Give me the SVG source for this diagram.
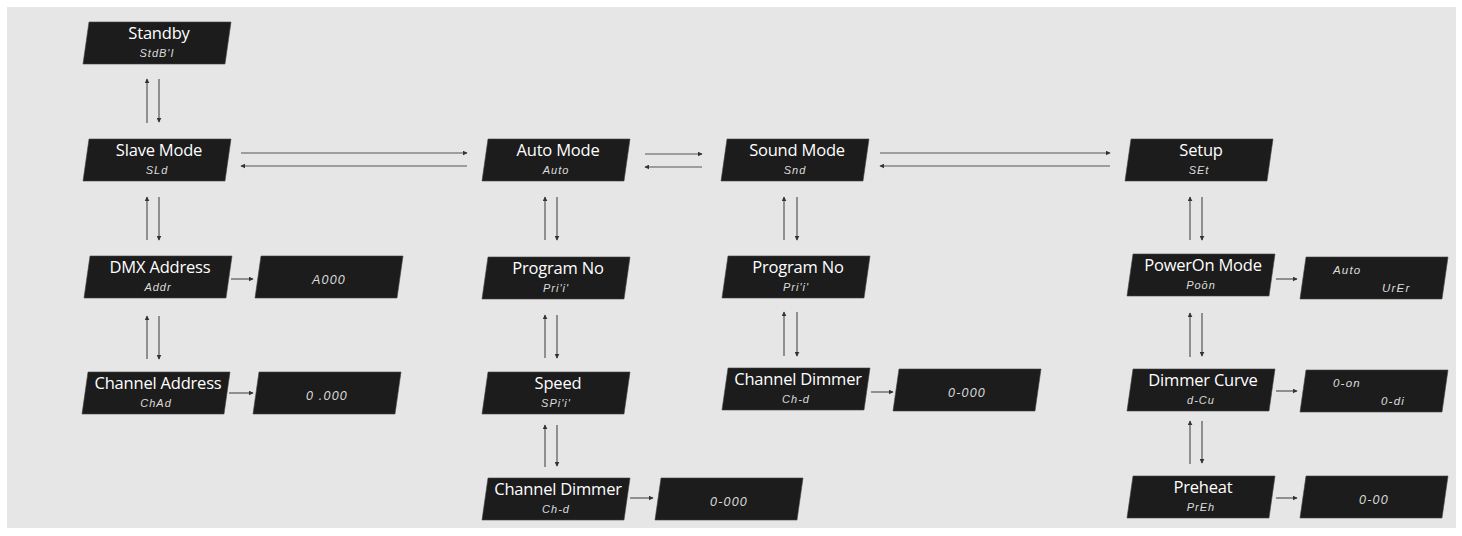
<svg xmlns="http://www.w3.org/2000/svg" width="1462" height="536" viewBox="0 0 1462 536">
<defs>
<style>
.box{fill:#1c1c1c;stroke:#444;stroke-width:0.6}
.t{font-family:"Open Sans","Liberation Sans",sans-serif;font-size:16.5px;fill:#ffffff;text-anchor:middle;letter-spacing:-0.2px}
.s{font-family:"Liberation Sans","DejaVu Sans",sans-serif;font-style:italic;font-size:11px;fill:#dcdcdc;text-anchor:middle;letter-spacing:1px}
.v{font-family:"Liberation Sans","DejaVu Sans",sans-serif;font-style:italic;font-size:12.5px;fill:#dcdcdc;text-anchor:middle;letter-spacing:1.2px}
.vl{font-family:"Liberation Sans","DejaVu Sans",sans-serif;font-style:italic;font-size:11.5px;fill:#dcdcdc;letter-spacing:1.2px}
.c{stroke:#555;stroke-width:1.2;fill:none;marker-end:url(#ah)}
</style>
<marker id="ah" viewBox="0 0 8 8" refX="7" refY="4" markerWidth="5" markerHeight="5" markerUnits="userSpaceOnUse" orient="auto">
<path d="M0,0 L8,4 L0,8 z" fill="#333"/>
</marker>
<path id="pg" d="M6,0 H148 L142,42 H0 Z"/>
</defs>
<rect x="0" y="0" width="1462" height="536" fill="#ffffff"/>
<rect x="7" y="7" width="1449" height="521" fill="#e6e6e6"/>

<g id="connectors">
<line class="c" x1="147" y1="123" x2="147" y2="79"/>
<line class="c" x1="159" y1="79" x2="159" y2="122"/>
<line class="c" x1="147" y1="240" x2="147" y2="197"/>
<line class="c" x1="159" y1="197" x2="159" y2="240"/>
<line class="c" x1="147" y1="359" x2="147" y2="316"/>
<line class="c" x1="159" y1="316" x2="159" y2="359"/>
<line class="c" x1="241" y1="153" x2="467" y2="153"/>
<line class="c" x1="467" y1="166" x2="241" y2="166"/>
<line class="c" x1="645" y1="154" x2="702" y2="154"/>
<line class="c" x1="702" y1="167" x2="645" y2="167"/>
<line class="c" x1="880" y1="153" x2="1110" y2="153"/>
<line class="c" x1="1110" y1="166" x2="880" y2="166"/>
<line class="c" x1="545" y1="240" x2="545" y2="197"/>
<line class="c" x1="557" y1="197" x2="557" y2="240"/>
<line class="c" x1="545" y1="358" x2="545" y2="315"/>
<line class="c" x1="557" y1="315" x2="557" y2="358"/>
<line class="c" x1="545" y1="467" x2="545" y2="425"/>
<line class="c" x1="557" y1="425" x2="557" y2="466"/>
<line class="c" x1="784" y1="240" x2="784" y2="197"/>
<line class="c" x1="797" y1="197" x2="797" y2="240"/>
<line class="c" x1="784" y1="356" x2="784" y2="312"/>
<line class="c" x1="797" y1="312" x2="797" y2="356"/>
<line class="c" x1="1190" y1="240" x2="1190" y2="197"/>
<line class="c" x1="1202" y1="197" x2="1202" y2="240"/>
<line class="c" x1="1190" y1="357" x2="1190" y2="313"/>
<line class="c" x1="1202" y1="313" x2="1202" y2="356"/>
<line class="c" x1="1190" y1="464" x2="1190" y2="421"/>
<line class="c" x1="1202" y1="421" x2="1202" y2="463"/>
<line class="c" x1="231" y1="279" x2="253" y2="279"/>
<line class="c" x1="229" y1="393" x2="253" y2="393"/>
<line class="c" x1="630" y1="498" x2="653" y2="498"/>
<line class="c" x1="871" y1="392" x2="893" y2="392"/>
<line class="c" x1="1276" y1="279" x2="1297" y2="279"/>
<line class="c" x1="1276" y1="391" x2="1297" y2="391"/>
<line class="c" x1="1276" y1="498" x2="1297" y2="498"/>
</g>

<g id="standby" transform="translate(83,22)"><use href="#pg" class="box"/><text class="t" x="76" y="17">Standby</text><text class="s" x="74" y="35">StdB'I</text></g>
<g id="slave-mode" transform="translate(83,139)"><use href="#pg" class="box"/><text class="t" x="76" y="17">Slave Mode</text><text class="s" x="74" y="35">SLd</text></g>
<g id="auto-mode" transform="translate(482,139)"><use href="#pg" class="box"/><text class="t" x="76" y="17">Auto Mode</text><text class="s" x="74" y="35">Auto</text></g>
<g id="sound-mode" transform="translate(721,139)"><use href="#pg" class="box"/><text class="t" x="76" y="17">Sound Mode</text><text class="s" x="74" y="35">Snd</text></g>
<g id="setup" transform="translate(1125,139)"><use href="#pg" class="box"/><text class="t" x="76" y="17">Setup</text><text class="s" x="74" y="35">SEt</text></g>

<g id="dmx-address" transform="translate(84,256)"><use href="#pg" class="box"/><text class="t" x="76" y="17">DMX Address</text><text class="s" x="74" y="35">Addr</text></g>
<g id="dmx-value" transform="translate(255,256)"><use href="#pg" class="box"/><text class="v" x="74" y="28">A000</text></g>
<g id="channel-address" transform="translate(82,372)"><use href="#pg" class="box"/><text class="t" x="76" y="17">Channel Address</text><text class="s" x="74" y="35">ChAd</text></g>
<g id="channel-address-value" transform="translate(253,372)"><use href="#pg" class="box"/><text class="v" x="74" y="28">0 .000</text></g>

<g id="auto-program" transform="translate(482,257)"><use href="#pg" class="box"/><text class="t" x="76" y="17">Program No</text><text class="s" x="74" y="35">Pri'i'</text></g>
<g id="auto-speed" transform="translate(482,372)"><use href="#pg" class="box"/><text class="t" x="76" y="17">Speed</text><text class="s" x="74" y="35">SPi'i'</text></g>
<g id="auto-dimmer" transform="translate(482,478)"><use href="#pg" class="box"/><text class="t" x="76" y="17">Channel Dimmer</text><text class="s" x="74" y="35">Ch-d</text></g>
<g id="auto-dimmer-value" transform="translate(655,478)"><use href="#pg" class="box"/><text class="v" x="74" y="28">0-000</text></g>

<g id="sound-program" transform="translate(722,256)"><use href="#pg" class="box"/><text class="t" x="76" y="17">Program No</text><text class="s" x="74" y="35">Pri'i'</text></g>
<g id="sound-dimmer" transform="translate(722,368)"><use href="#pg" class="box"/><text class="t" x="76" y="17">Channel Dimmer</text><text class="s" x="74" y="35">Ch-d</text></g>
<g id="sound-dimmer-value" transform="translate(893,369)"><use href="#pg" class="box"/><text class="v" x="74" y="28">0-000</text></g>

<g id="poweron-mode" transform="translate(1127,254)"><use href="#pg" class="box"/><text class="t" x="76" y="17">PowerOn Mode</text><text class="s" x="74" y="35">Poōn</text></g>
<g id="poweron-value" transform="translate(1300,257)"><use href="#pg" class="box"/><text class="vl" x="33" y="17">Auto</text><text class="vl" x="82" y="35">UrEr</text></g>
<g id="dimmer-curve" transform="translate(1127,369)"><use href="#pg" class="box"/><text class="t" x="76" y="17">Dimmer Curve</text><text class="s" x="74" y="35">d-Cu</text></g>
<g id="dimmer-curve-value" transform="translate(1300,370)"><use href="#pg" class="box"/><text class="vl" x="33" y="17">0-on</text><text class="vl" x="81" y="35">0-di</text></g>
<g id="preheat" transform="translate(1127,476)"><use href="#pg" class="box"/><text class="t" x="76" y="17">Preheat</text><text class="s" x="74" y="35">PrEh</text></g>
<g id="preheat-value" transform="translate(1300,476)"><use href="#pg" class="box"/><text class="v" x="74" y="28">0-00</text></g>
</svg>
